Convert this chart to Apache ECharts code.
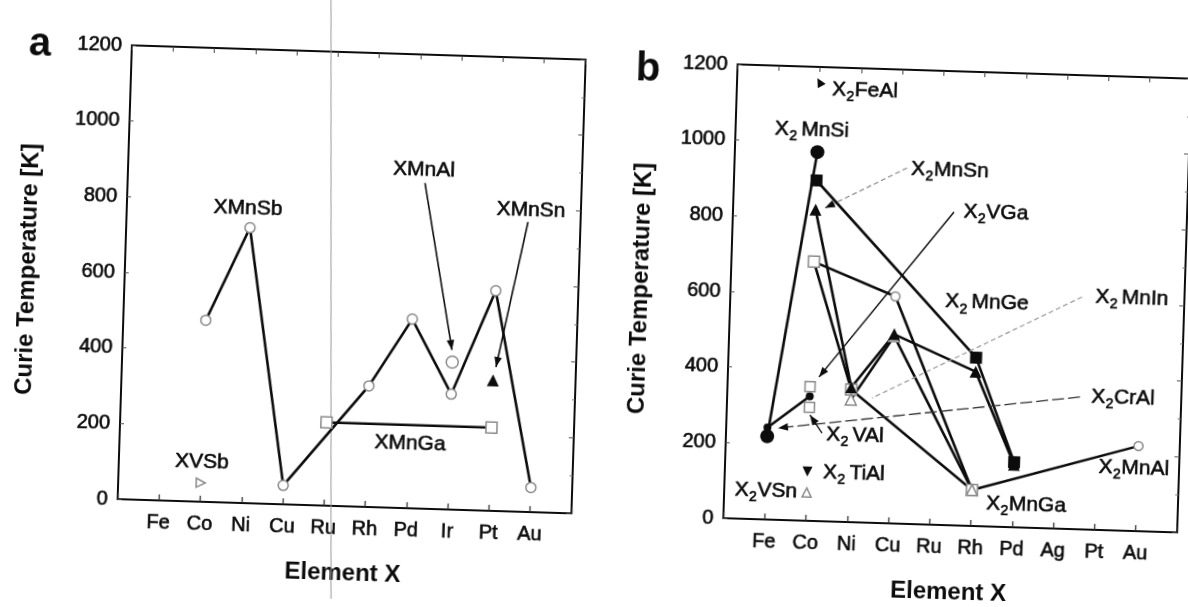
<!DOCTYPE html>
<html><head><meta charset="utf-8">
<script src="https://cdn.jsdelivr.net/npm/echarts@6/dist/echarts.min.js"></script>
<style>
html,body{margin:0;padding:0;background:#fff;overflow:hidden;width:1188px;height:607px}
#c{width:1188px;height:607px;transform:rotate(1.8deg);transform-origin:594px 303.5px;}
</style></head><body><div id="c"></div>
<script>
// ---- categories and ticks ----
const elementsA = ['Fe','Co','Ni','Cu','Ru','Rh','Pd','Ir','Pt','Au'];
const elementsB = ['Fe','Co','Ni','Cu','Ru','Rh','Pd','Ag','Pt','Au'];
const yTicks = [0,200,400,600,800,1000,1200];

// ---- panel a: XYZ (half Heusler) ----
const xMnSb = [['Co',480],['Ni',728],['Cu',50],['Rh',320],['Pd',500],['Ir',305],['Pt',582],['Au',65]];
const xMnAl = [['Ir',390]];
const xMnSn = [['Pt',345]];
const xMnGa = [['Ru',220],['Pt',220]];
const xVSb  = [['Co',50]];

// ---- panel b: X2YZ (full Heusler) ----
const x2MnSi = [['Fe',220],['Co',975]];
const x2FeAl = [['Co',1160]];
const x2MnGe = [['Co',900],['Rh',445],['Pd',172]];
const x2MnSn = [['Co',823],['Ni',356],['Cu',500],['Rh',408],['Pd',165]];
const x2MnGa = [['Co',685],['Ni',350],['Rh',95]];
const x2MnAl = [['Co',685],['Cu',600],['Rh',95],['Au',225]];
const x2MnIn = [['Ni',324],['Cu',495],['Rh',95]];
const x2CrAl = [['Fe',243],['Co',329]];
const x2VGa  = [['Co',355]];
const x2VAl  = [['Co',300]];
const x2TiAl = [['Co',130]];
const x2VSn  = [['Co',75]];

// ---------------------------------------------------------------
const FONT = 'Liberation Sans, Arial, Helvetica, sans-serif';
const INK = '#0c0c0c';
const HEAVY = 0.6; // extra stroke to mimic the thick scanned type
const th = 1.8 * Math.PI / 180;
// convert a position seen on the (rotated) scan into the chart's own frame
function U(X, Y) {
  const c = Math.cos(th), s = Math.sin(th), dx = X - 594, dy = Y - 303.5;
  return [594 + dx * c + dy * s, 303.5 - dx * s + dy * c];
}
function toXY(arr, cats) { return arr.map(([e, v]) => [cats.indexOf(e) + 1, v]); }

const OPEN = {color: '#fff', borderColor: '#8a8a8a', borderWidth: 1.5};
const FILL = {color: INK, borderColor: INK, borderWidth: 0};

function ser(name, arr, cats, idx, symbol, size, style, extra) {
  return Object.assign({
    name, type: 'line', xAxisIndex: idx, yAxisIndex: idx,
    data: toXY(arr, cats), symbol, symbolSize: size, showSymbol: true, showAllSymbol: true,
    lineStyle: {color: INK, width: 2.6}, itemStyle: style, silent: true, animation: false, z: 3
  }, extra || {});
}

const LBL = {fontSize: 20, color: INK, fontFamily: FONT, textBorderColor: INK, textBorderWidth: HEAVY};

function axesFor(g, cats, yNameGap) {
  const xb = {
    gridIndex: g, type: 'value', min: 0, max: 11, interval: 1, position: 'bottom',
    axisLine: {onZero: false, lineStyle: {color: INK, width: 2}},
    axisTick: {inside: true, length: 6, lineStyle: {color: '#333', width: 1.3}},
    axisLabel: Object.assign({margin: 12, formatter: v => cats[v - 1] || ''}, LBL),
    splitLine: {show: false},
    name: 'Element X', nameLocation: 'middle', nameGap: 55,
    nameTextStyle: {fontSize: 24, fontWeight: 'bold', color: INK, fontFamily: FONT}
  };
  const xt = {
    gridIndex: g, type: 'value', min: 0, max: 11, interval: 1, position: 'top',
    axisLine: {onZero: false, lineStyle: {color: INK, width: 2}},
    axisTick: {inside: true, length: 5, lineStyle: {color: '#444', width: 1}},
    axisLabel: {show: false}, splitLine: {show: false}
  };
  const yl = {
    gridIndex: g, type: 'value', min: 0, max: 1200, interval: 200, position: 'left',
    axisLine: {show: true, onZero: false, lineStyle: {color: INK, width: 2}},
    axisTick: {show: true, inside: true, length: 4, lineStyle: {color: '#555', width: 1}},
    axisLabel: Object.assign({margin: 10, formatter: v => yTicks.includes(v) ? String(v) : ''}, LBL),
    splitLine: {show: false},
    name: 'Curie Temperature [K]', nameLocation: 'middle', nameGap: yNameGap, nameRotate: 90,
    nameTextStyle: {fontSize: 24, fontWeight: 'bold', color: INK, fontFamily: FONT}
  };
  const yr = {
    gridIndex: g, type: 'value', min: 0, max: 1200, interval: 200, position: 'right',
    axisLine: {show: true, onZero: false, lineStyle: {color: INK, width: 2}},
    axisTick: {show: true, inside: true, length: 5, lineStyle: {color: '#555', width: 1}},
    minorTick: {show: true, splitNumber: 2, length: 3, lineStyle: {color: '#777'}},
    axisLabel: {show: false}, splitLine: {show: false}
  };
  return {x: [xb, xt], y: [yl, yr]};
}

const A = axesFor(0, elementsA, 85);
const B = axesFor(1, elementsB, 78);

const series = [
  // panel a (axis index 0)
  ser('XMnSb', xMnSb, elementsA, 0, 'circle', 10, OPEN),
  ser('XMnGa', xMnGa, elementsA, 0, 'rect', 11, OPEN),
  ser('XMnAl', xMnAl, elementsA, 0, 'circle', 12, OPEN),
  ser('XMnSn', xMnSn, elementsA, 0, 'triangle', 12, FILL),
  ser('XVSb', xVSb, elementsA, 0, 'triangle', 9, OPEN, {symbolRotate: -90}),
  // panel b (axis index 2)
  ser('X2MnAl', x2MnAl, elementsB, 2, 'circle', 9, OPEN),
  ser('X2MnGa', x2MnGa, elementsB, 2, 'rect', 11, OPEN),
  ser('X2MnIn', x2MnIn, elementsB, 2, 'triangle', 11, OPEN),
  ser('X2MnSn', x2MnSn, elementsB, 2, 'triangle', 12, FILL),
  ser('X2MnGe', x2MnGe, elementsB, 2, 'rect', 12, FILL),
  ser('X2MnSi', x2MnSi, elementsB, 2, 'circle', 14, FILL),
  ser('X2CrAl', x2CrAl, elementsB, 2, 'circle', 8, FILL),
  ser('X2FeAl', x2FeAl, elementsB, 2, 'triangle', 9, FILL, {symbolRotate: 30}),
  ser('X2VGa', x2VGa, elementsB, 2, 'rect', 10, OPEN),
  ser('X2VAl', x2VAl, elementsB, 2, 'rect', 10, OPEN),
  ser('X2TiAl', x2TiAl, elementsB, 2, 'triangle', 10, FILL, {symbolRotate: 180}),
  ser('X2VSn', x2VSn, elementsB, 2, 'triangle', 9, OPEN)
];

// ---- annotations (positions as seen on the scan) ----
const graphic = [];
const mctx = document.createElement('canvas').getContext('2d');
function tw(t, size) { mctx.font = size + 'px ' + FONT; return mctx.measureText(t).width; }

function txt(t, X, Y, size, weight) {
  const p = U(X, Y);
  const st = {text: t, x: p[0], y: p[1], align: 'center', verticalAlign: 'middle',
    fontSize: size, fontWeight: weight || 'normal', fontFamily: FONT, fill: INK};
  if (!weight) { st.stroke = INK; st.lineWidth = HEAVY; }
  graphic.push({type: 'text', z: 10, silent: true, style: st});
}
function piece(t, x, y, size) {
  graphic.push({type: 'text', z: 10, silent: true,
    style: {text: t, x: x, y: y, align: 'left', verticalAlign: 'middle',
      fontSize: size, fontFamily: FONT, fill: INK, stroke: INK, lineWidth: HEAVY}});
}
// "X" + subscript 2 + rest, centred on a scan position
function subTxt(rest, X, Y, gap) {
  const big = 21, small = 14;
  const wX = tw('X', big), w2 = tw('2', small), wr = tw(rest, big), g = gap ? 4 : 0.5;
  const total = wX + 0.5 + w2 + g + wr;
  const p = U(X, Y);
  const x0 = p[0] - total / 2;
  piece('X', x0, p[1], big);
  piece('2', x0 + wX + 0.5, p[1] + 7, small);
  piece(rest, x0 + wX + 0.5 + w2 + g, p[1], big);
}
function arrow(X1, Y1, X2, Y2, color, width, dash, head) {
  const p1 = U(X1, Y1), p2 = U(X2, Y2);
  graphic.push({type: 'line', z: 9, silent: true,
    shape: {x1: p1[0], y1: p1[1], x2: p2[0], y2: p2[1]},
    style: {stroke: color, lineWidth: width, lineDash: dash || null}});
  if (head) {
    const dx = p2[0] - p1[0], dy = p2[1] - p1[1], L = Math.hypot(dx, dy);
    const ux = dx / L, uy = dy / L, hl = 10, hw = 3.8;
    const bx = p2[0] - ux * hl, by = p2[1] - uy * hl;
    graphic.push({type: 'polygon', z: 9, silent: true,
      shape: {points: [[p2[0], p2[1]], [bx - uy * hw, by + ux * hw], [bx + uy * hw, by - ux * hw]]},
      style: {fill: INK}});
  }
}

// scan fold line
(function () {
  const p1 = U(331, -20), p2 = U(331, 630);
  graphic.push({type: 'line', z: 1, silent: true,
    shape: {x1: p1[0], y1: p1[1], x2: p2[0], y2: p2[1]}, style: {stroke: '#9a9a9a', lineWidth: 1}});
})();

txt('a', 40, 44, 40, 'bold');
txt('b', 648, 70, 40, 'bold');

txt('XMnSb', 248, 208, 21);
txt('XMnAl', 424, 170, 21);
txt('XMnSn', 531, 210, 21);
txt('XMnGa', 410, 443, 21);
txt('XVSb', 202, 462, 21);
arrow(425, 183, 452, 350, INK, 1.6, null, true);
arrow(528, 222, 496, 367, INK, 1.6, null, true);

subTxt('FeAl', 865, 91);
subTxt('MnSi', 812, 130, true);
subTxt('MnSn', 950, 170);
subTxt('VGa', 996, 213);
subTxt('MnGe', 987, 303, true);
subTxt('MnIn', 1132, 298, true);
subTxt('CrAl', 1123, 398);
subTxt('VAl', 855, 435, true);
subTxt('TiAl', 854, 473, true);
subTxt('VSn', 766, 491);
subTxt('MnGa', 1026, 505);
subTxt('MnAl', 1134, 468);

arrow(907, 168, 825, 208, '#888', 1.2, [5, 3], true);
arrow(954, 212, 819, 377, INK, 1.4, null, true);
arrow(1082, 297, 872, 398, '#999', 1.2, [5, 3], false);
arrow(1080, 397, 778, 428, '#333', 1.3, [12, 4], true);
arrow(822, 433, 810, 415, INK, 1.3, null, true);

const chart = echarts.init(document.getElementById('c'), null, {renderer: 'canvas'});
chart.setOption({
  backgroundColor: '#fff',
  animation: false,
  grid: [
    {left: 124, top: 60, width: 454, height: 454},
    {left: 730, top: 60, width: 454, height: 454}
  ],
  xAxis: [A.x[0], A.x[1], B.x[0], B.x[1]],
  yAxis: [A.y[0], A.y[1], B.y[0], B.y[1]],
  series: series,
  graphic: graphic
});
</script></body></html>
